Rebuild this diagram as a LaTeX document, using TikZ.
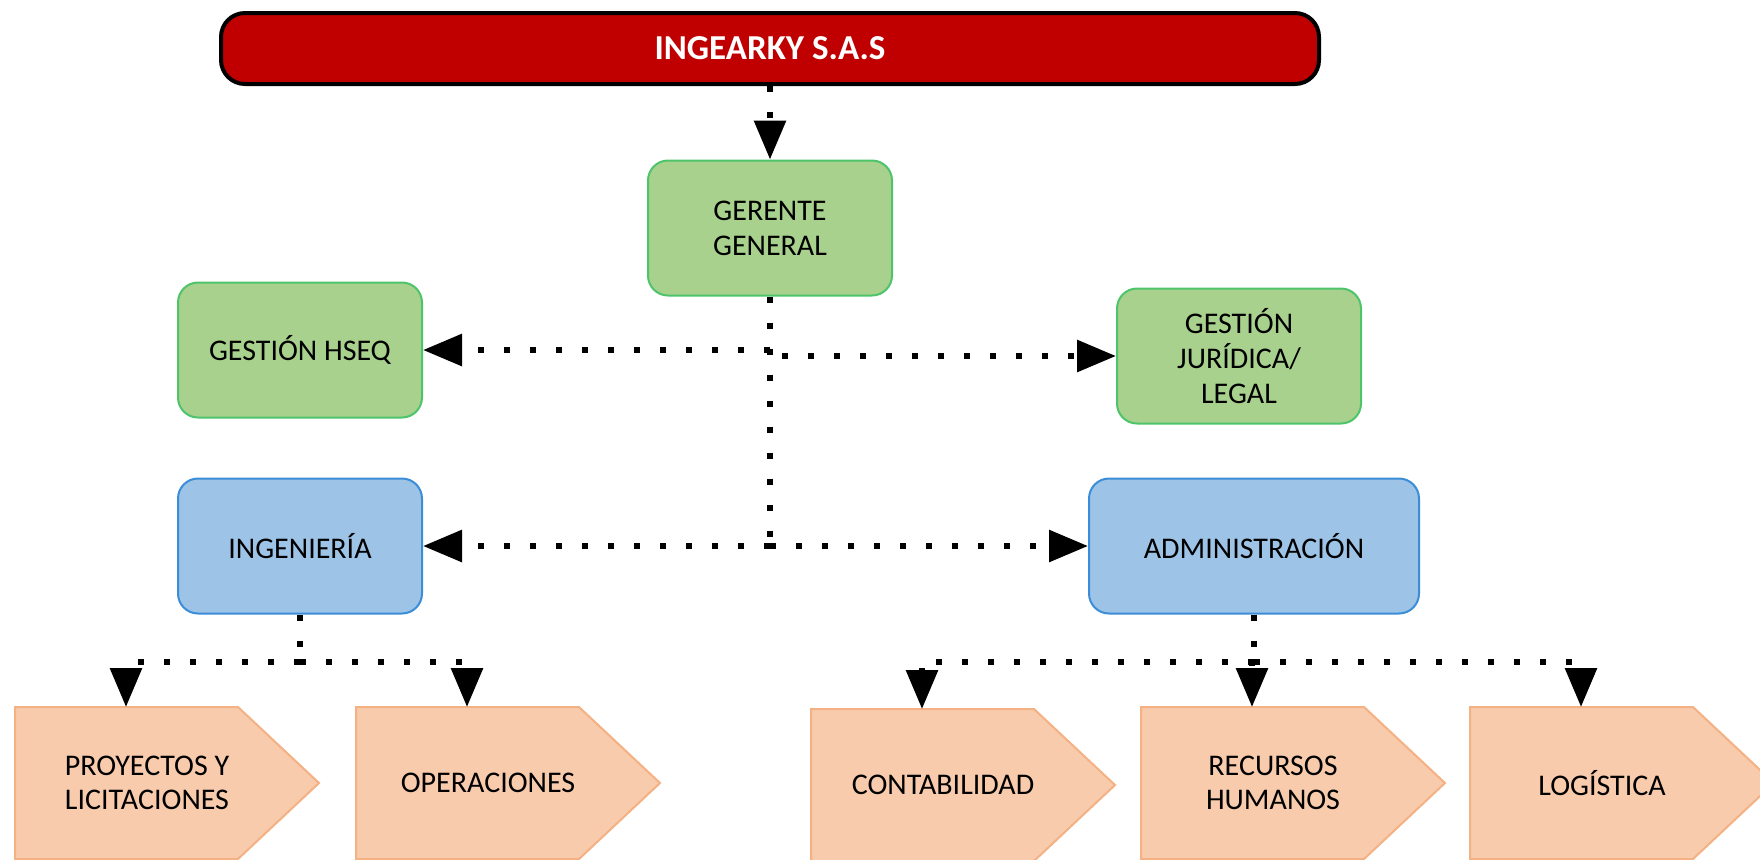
\documentclass[tikz,border=0pt]{standalone}
\usepackage{fontspec}
\setmainfont{Carlito}
\usetikzlibrary{arrows.meta,calc}
\definecolor{corpred}{HTML}{C00000}
\definecolor{mgreen}{HTML}{A9D18E}
\definecolor{mgreenline}{HTML}{4DC46A}
\definecolor{mblue}{HTML}{9DC3E6}
\definecolor{mblueline}{HTML}{3A8DD6}
\definecolor{morange}{HTML}{F8CBAD}
\definecolor{morangeline}{HTML}{F4B183}

% pentagon process box: #1 name, #2 left edge, #3 top edge, #4 label
\newcommand{\procshape}[4]{
   \draw[fill=morange, draw=morangeline, line width=1pt]
   (#2,#3) -- ++(223,0) -- ++(81,76) -- ++(-81,76) -- ++(-223,0) -- cycle;
   \coordinate (#1-top) at (#2+111,#3);
   \node[proctext] (#1) at (#2+132,#3+76) {#4};
}

\begin{document}
\begin{tikzpicture}[x=0.5pt, y=-0.5pt,
  box/.style={rectangle, rounded corners=10pt, minimum width=122pt,
    minimum height=67.5pt, align=center, line width=1pt,
    font=\fontsize{15pt}{17.5pt}\selectfont},
  greenbox/.style={box, fill=mgreen, draw=mgreenline},
  bluebox/.style={box, fill=mblue, draw=mblueline},
  proctext/.style={align=center, font=\fontsize{15pt}{17pt}\selectfont},
  dotline/.style={line width=3pt, dash pattern=on 3pt off 10pt},
  dotarrow/.style={dotline, -{Triangle[length=19.5pt,width=15.5pt]}}]
  \useasboundingbox (0,0) rectangle (1760,859);

  % top of the chart
  \node[rectangle, rounded corners=12pt, fill=corpred, draw=black,
    line width=2pt, minimum width=549pt, minimum height=35.5pt,
    text=white, font=\bfseries\fontsize{17.5pt}{20pt}\selectfont]
    (corp) at (770,48.5) {INGEARKY S.A.S};
  \node[greenbox] (gerente) at (770,228) {GERENTE\\GENERAL};
  \node[greenbox] (hseq) at (300,350) {GESTIÓN HSEQ};
  \node[greenbox] (jurid) at (1239,356) {GESTIÓN\\JURÍDICA/\\LEGAL};
  \node[bluebox] (ing) at (300,546) {INGENIERÍA};
  \node[bluebox, minimum width=165pt] (admin) at (1254,546) {ADMINISTRACIÓN};

  % the process boxes are drawn with the macro
  \procshape{proy}{15}{707}{PROYECTOS Y\\LICITACIONES}
  \procshape{oper}{356}{707}{OPERACIONES}
  \procshape{cont}{811}{709}{CONTABILIDAD}
  \procshape{rrhh}{1141}{707}{RECURSOS\\HUMANOS}
  \procshape{logi}{1470}{707}{LOGÍSTICA}

  % connectors
  \draw[dotarrow] (corp.south) -- (gerente.north);
  \coordinate (gbus) at (gerente.south |- ing.east);
  \draw[dotline] (gerente.south) -- (gbus);
  \draw[dotarrow] (gerente.south |- hseq.east) -- (hseq.east);
  \draw[dotarrow] ($(gerente.south |- jurid.west)+(12,0)$) -- (jurid.west);
  \draw[dotarrow] (gbus) -- (ing.east);
  \draw[dotarrow] (gbus) -- (admin.west);

  \path (ing.south) ++(0,47.5) coordinate (ibus);
  \draw[dotline] (ing.south) -- (ibus);
  \foreach \n in {proy,oper}
     \draw[dotarrow] (ibus) -| (\n-top);

  \path (admin.south) ++(0,47.5) coordinate (abus);
  \draw[dotline] (admin.south) -- (abus);
  \foreach \n in {cont,rrhh,logi}
     \draw[dotarrow] (abus) -| (\n-top);
\end{tikzpicture}
\end{document}
